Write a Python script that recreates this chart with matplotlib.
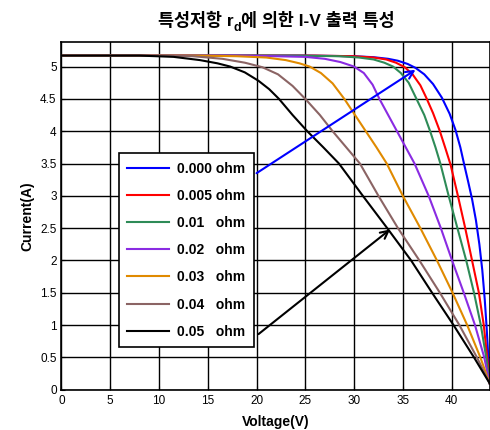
import matplotlib
matplotlib.use('Agg')
import matplotlib.pyplot as plt

plt.rcParams['font.family'] = ['Liberation Sans', 'Noto Sans CJK KR', 'DejaVu Sans']

# I-V curves, one per series resistance
labels = ['0.000 ohm', '0.005 ohm', '0.01   ohm', '0.02   ohm', '0.03   ohm', '0.04   ohm', '0.05   ohm']
colors = ['#0000ff', '#ff0000', '#2e8b57', '#8a2be2', '#e08a00', '#8b6464', '#000000']

v_000 = [0, 25, 30, 32, 33.5, 34.5, 35.5, 36.3, 37.2, 38.1, 39.0, 39.8, 40.4, 40.9, 41.3,
         41.7, 42.1, 42.5, 42.85, 43.15, 43.4, 43.6, 43.75, 43.9]
i_000 = [5.17, 5.17, 5.16, 5.145, 5.12, 5.09, 5.04, 4.98, 4.88, 4.73, 4.52, 4.27, 4.02, 3.75, 3.48,
         3.22, 2.95, 2.62, 2.25, 1.85, 1.4, 0.95, 0.55, 0.1]

v_005 = [0, 26, 30, 32, 33.3, 34.3, 35.2, 36.0, 36.8, 37.4, 38.1, 38.8, 39.4, 39.9, 40.65,
         41.4, 42.1, 42.8, 43.3, 43.65, 43.9]
i_005 = [5.17, 5.17, 5.16, 5.14, 5.11, 5.06, 4.99, 4.88, 4.71, 4.52, 4.28, 4.0, 3.72, 3.48, 3.0,
         2.5, 2.0, 1.5, 1.0, 0.5, 0.1]

v_01 = [0, 24, 28.5, 30.5, 32, 33.1, 34.0, 34.8, 35.6, 36.4, 37.2, 37.8, 38.35, 38.85, 39.7,
        40.6, 41.5, 42.3, 43.0, 43.55, 43.9]
i_01 = [5.17, 5.17, 5.16, 5.14, 5.11, 5.06, 5.0, 4.9, 4.75, 4.5, 4.25, 4.0, 3.75, 3.5, 3.0,
        2.5, 2.0, 1.5, 1.0, 0.5, 0.1]

v_02 = [0, 18, 22, 25, 27, 28.6, 30.0, 31.0, 31.9, 32.6, 33.5, 34.4, 35.3, 36.2, 37.65,
        38.9, 40.05, 41.25, 42.4, 43.35, 43.9]
i_02 = [5.17, 5.17, 5.16, 5.15, 5.12, 5.07, 5.0, 4.9, 4.72, 4.5, 4.25, 4.0, 3.75, 3.5, 3.0,
        2.5, 2.0, 1.5, 1.0, 0.5, 0.1]

v_03 = [0, 14, 18, 21, 23, 24.4, 25.45, 26.6, 27.8, 29.0, 30.1, 31.2, 32.3, 33.35, 35.0,
        36.8, 38.5, 40.1, 41.6, 42.95, 43.9]
i_03 = [5.17, 5.17, 5.16, 5.14, 5.1, 5.05, 5.0, 4.9, 4.74, 4.5, 4.25, 4.0, 3.75, 3.5, 3.0,
        2.5, 2.0, 1.5, 1.0, 0.5, 0.1]

v_04 = [0, 10, 13.5, 16.5, 18.8, 20.6, 22.2, 23.7, 25.0, 26.5, 27.8, 29.2, 30.6, 32.5,
        34.5, 36.7, 38.8, 40.8, 42.6, 43.9]
i_04 = [5.17, 5.17, 5.16, 5.12, 5.06, 4.99, 4.88, 4.7, 4.5, 4.25, 4.0, 3.75, 3.5, 3.0,
        2.5, 2.0, 1.5, 1.0, 0.5, 0.1]

v_05 = [0, 8, 11.5, 14.2, 16.0, 17.3, 18.8, 20.2, 21.3, 22.3, 23.7, 25.2, 26.85, 28.45,
        30.9, 33.4, 35.85, 38.0, 40.2, 42.3, 43.9]
i_05 = [5.17, 5.17, 5.15, 5.1, 5.05, 5.0, 4.91, 4.78, 4.65, 4.5, 4.25, 4.0, 3.75, 3.5,
        3.0, 2.5, 2.0, 1.5, 1.0, 0.5, 0.1]

volts = [v_000, v_005, v_01, v_02, v_03, v_04, v_05]
amps = [i_000, i_005, i_01, i_02, i_03, i_04, i_05]

# annotation arrows: (start, tip) in data units
blue_arrow = [(20.0, 3.35), (36.3, 4.95)]
black_arrow = [(20.2, 0.86), (33.7, 2.48)]

fig = plt.figure(figsize=(4.9, 4.3), dpi=100)
ax = fig.add_axes([0.1255, 0.0937, 0.8737, 0.8086])

for v, i, c, lab in zip(volts, amps, colors, labels):
    ax.plot(v, i, color=c, linewidth=1.5, label=lab)

for (start, tip), c in zip([blue_arrow, black_arrow], ['#0000ff', '#000000']):
    ax.annotate('', xy=tip, xytext=start,
                arrowprops=dict(arrowstyle='->', color=c, lw=1.5, mutation_scale=14,
                                shrinkA=0, shrinkB=0))

ax.set_xlim(0, 43.9)
ax.set_ylim(0, 5.38)
ax.set_xticks(range(0, 41, 5))
ax.set_yticks([0, 0.5, 1, 1.5, 2, 2.5, 3, 3.5, 4, 4.5, 5])
ax.set_yticklabels(['0', '0.5', '1', '1.5', '2', '2.5', '3', '3.5', '4', '4.5', '5'])
ax.tick_params(direction='in', length=3, labelsize=8.5, top=False, right=False)
ax.grid(True, color='black', linestyle='-', linewidth=1.0)
for s in ax.spines.values():
    s.set_linewidth(1.2)

ax.set_xlabel('Voltage(V)', fontsize=10, fontweight='bold', labelpad=6)
ax.set_ylabel('Current(A)', fontsize=10, fontweight='bold', labelpad=4)

# title in three pieces so the subscript d works with the Korean fallback font
y_base = 0.9395
t1 = fig.text(0.3224, y_base, '특성저항 r', fontsize=12.5, fontweight='bold', va='baseline')
t2 = ax.annotate('d', xy=(1, y_base), xycoords=(t1, 'figure fraction'), xytext=(0, -3.5),
                 textcoords='offset points', fontsize=9, fontweight='bold', va='baseline')
ax.annotate('에 의한 I-V 출력 특성', xy=(1, y_base), xycoords=(t2, 'figure fraction'),
            fontsize=12.5, fontweight='bold', va='baseline')

leg = ax.legend(loc='lower left', bbox_to_anchor=(0.1345, 0.1227), borderaxespad=0,
                prop={'weight': 'bold', 'size': 10}, fancybox=False, framealpha=1,
                edgecolor='black', handlelength=3.0, labelspacing=0.95,
                borderpad=0.6, handletextpad=0.6)
leg.get_frame().set_linewidth(1.2)
leg.set_zorder(5)

fig.savefig('out.png', dpi=100)
